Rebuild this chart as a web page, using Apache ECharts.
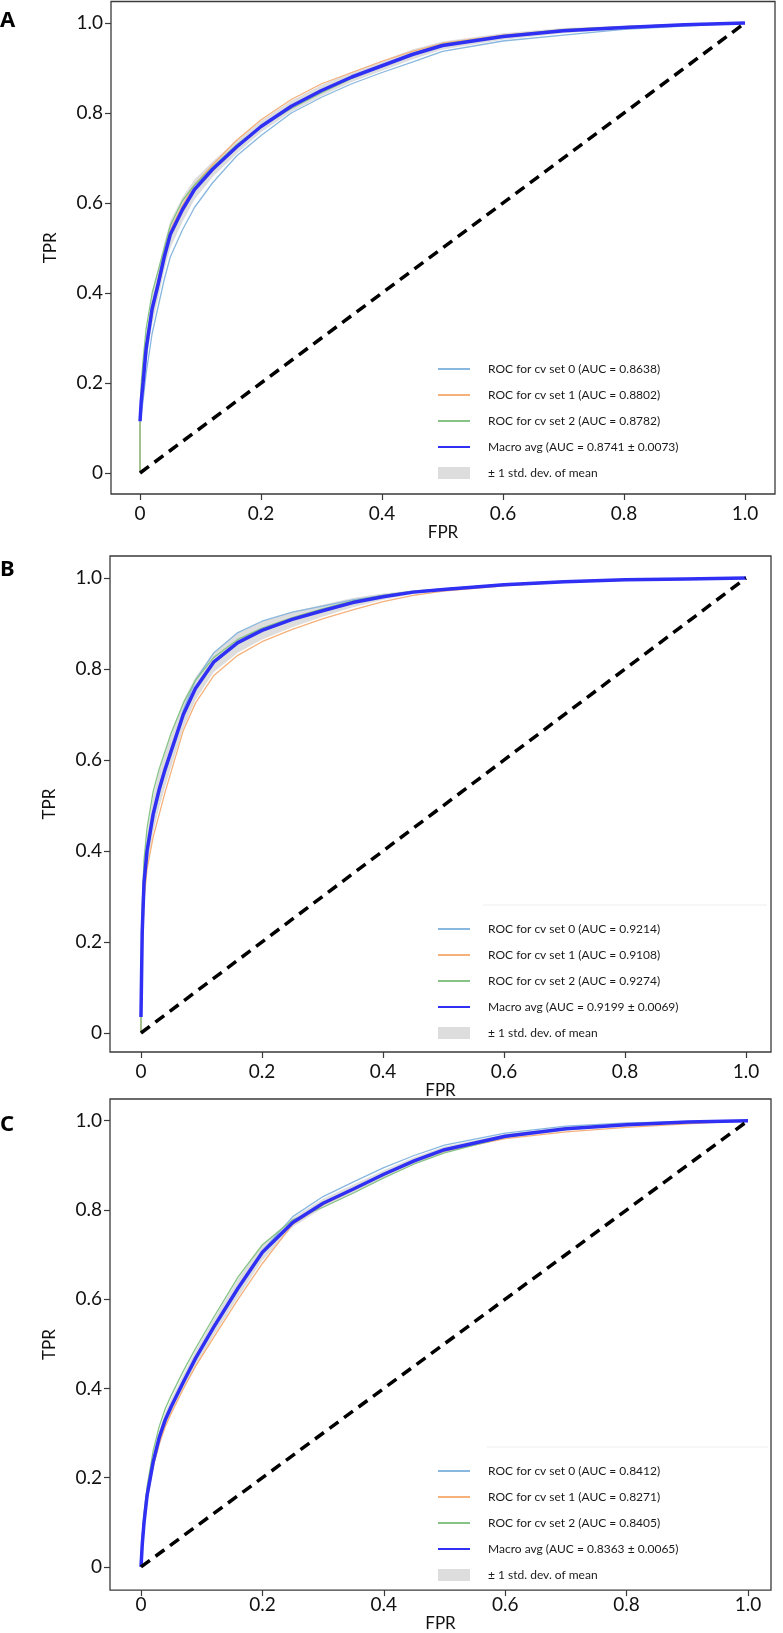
<!DOCTYPE html>
<html>
<head>
<meta charset="utf-8">
<script src="https://cdn.jsdelivr.net/npm/echarts@6/dist/echarts.min.js"></script>
<style>
  html, body { margin: 0; padding: 0; background: #fff; }
  #chart { width: 783px; height: 1633px; }
</style>
</head>
<body>
<div id="chart"></div>
<script>
// shared FPR grid the curves were read on
const fpr = [0, 0.002, 0.005, 0.01, 0.02, 0.03, 0.04, 0.05, 0.07, 0.09, 0.12, 0.16, 0.2, 0.25, 0.3, 0.35, 0.4, 0.45, 0.5, 0.6, 0.7, 0.8, 0.9, 1.0];
const tickValues = [0, 0.2, 0.4, 0.6, 0.8, 1.0];
const chanceLine = [[0, 0], [1, 1]];
const stdName = '± 1 std. dev. of mean';

// panel A
const namesA = ['ROC for cv set 0 (AUC = 0.8638)', 'ROC for cv set 1 (AUC = 0.8802)', 'ROC for cv set 2 (AUC = 0.8782)', 'Macro avg (AUC = 0.8741 ± 0.0073)'];
const tprA0 = [0.11, 0.13, 0.16, 0.22, 0.31, 0.37, 0.43, 0.48, 0.54, 0.59, 0.645, 0.705, 0.75, 0.80, 0.835, 0.865, 0.89, 0.913, 0.937, 0.96, 0.973, 0.986, 0.993, 1.0];
const tprA1 = [0.11, 0.16, 0.21, 0.29, 0.37, 0.43, 0.49, 0.54, 0.595, 0.64, 0.685, 0.74, 0.785, 0.83, 0.865, 0.89, 0.915, 0.937, 0.955, 0.973, 0.985, 0.992, 0.997, 1.0];
const tprA2 = [0.11, 0.20, 0.25, 0.32, 0.40, 0.45, 0.50, 0.55, 0.605, 0.64, 0.68, 0.73, 0.77, 0.81, 0.845, 0.877, 0.905, 0.932, 0.953, 0.972, 0.985, 0.992, 0.997, 1.0];
const meanA = [0.115, 0.16, 0.20, 0.275, 0.365, 0.42, 0.48, 0.53, 0.585, 0.63, 0.675, 0.725, 0.77, 0.815, 0.85, 0.88, 0.905, 0.93, 0.95, 0.97, 0.983, 0.99, 0.996, 1.0];
const stdA = [0.005, 0.015, 0.02, 0.03, 0.035, 0.033, 0.03, 0.03, 0.027, 0.022, 0.017, 0.015, 0.013, 0.012, 0.012, 0.011, 0.011, 0.011, 0.009, 0.007, 0.006, 0.004, 0.002, 0.0];

// panel B
const namesB = ['ROC for cv set 0 (AUC = 0.9214)', 'ROC for cv set 1 (AUC = 0.9108)', 'ROC for cv set 2 (AUC = 0.9274)', 'Macro avg (AUC = 0.9199 ± 0.0069)'];
const tprB0 = [0.03, 0.20, 0.31, 0.39, 0.47, 0.525, 0.575, 0.62, 0.71, 0.775, 0.835, 0.88, 0.905, 0.925, 0.938, 0.952, 0.962, 0.97, 0.976, 0.986, 0.993, 0.996, 0.998, 1.0];
const tprB1 = [0.03, 0.18, 0.29, 0.36, 0.43, 0.48, 0.53, 0.575, 0.665, 0.725, 0.785, 0.83, 0.86, 0.887, 0.91, 0.93, 0.948, 0.962, 0.971, 0.983, 0.991, 0.995, 0.998, 1.0];
const tprB2 = [0.04, 0.28, 0.38, 0.45, 0.53, 0.58, 0.62, 0.66, 0.725, 0.775, 0.825, 0.865, 0.89, 0.913, 0.932, 0.95, 0.962, 0.971, 0.976, 0.986, 0.992, 0.996, 0.998, 1.0];
const meanB = [0.035, 0.22, 0.33, 0.40, 0.48, 0.535, 0.58, 0.62, 0.70, 0.757, 0.815, 0.858, 0.885, 0.909, 0.928, 0.946, 0.959, 0.969, 0.975, 0.985, 0.992, 0.996, 0.998, 1.0];
const stdB = [0.005, 0.04, 0.04, 0.037, 0.04, 0.04, 0.038, 0.035, 0.03, 0.025, 0.022, 0.022, 0.02, 0.017, 0.013, 0.01, 0.007, 0.004, 0.003, 0.002, 0.001, 0.001, 0.0, 0.0];

// panel C
const namesC = ['ROC for cv set 0 (AUC = 0.8412)', 'ROC for cv set 1 (AUC = 0.8271)', 'ROC for cv set 2 (AUC = 0.8405)', 'Macro avg (AUC = 0.8363 ± 0.0065)'];
const tprC0 = [0.0, 0.05, 0.10, 0.16, 0.235, 0.29, 0.33, 0.36, 0.415, 0.47, 0.54, 0.627, 0.708, 0.785, 0.83, 0.863, 0.895, 0.922, 0.945, 0.972, 0.988, 0.995, 0.998, 1.0];
const tprC1 = [0.0, 0.04, 0.09, 0.15, 0.225, 0.275, 0.315, 0.345, 0.40, 0.45, 0.515, 0.60, 0.68, 0.768, 0.812, 0.845, 0.878, 0.908, 0.932, 0.96, 0.975, 0.985, 0.993, 1.0];
const tprC2 = [0.0, 0.07, 0.12, 0.18, 0.26, 0.315, 0.355, 0.385, 0.44, 0.49, 0.56, 0.65, 0.722, 0.778, 0.806, 0.838, 0.872, 0.903, 0.928, 0.963, 0.982, 0.992, 0.997, 1.0];
const meanC = [0.0, 0.05, 0.10, 0.16, 0.235, 0.29, 0.33, 0.36, 0.415, 0.468, 0.538, 0.625, 0.705, 0.772, 0.815, 0.847, 0.88, 0.91, 0.935, 0.965, 0.982, 0.991, 0.997, 1.0];
const stdC = [0.0, 0.01, 0.012, 0.013, 0.015, 0.016, 0.017, 0.017, 0.017, 0.017, 0.018, 0.02, 0.018, 0.01, 0.01, 0.01, 0.009, 0.008, 0.007, 0.005, 0.004, 0.003, 0.002, 0.0];

const cvColors = ['#88b7df', '#f6b07a', '#86c486'];
const meanColor = '#3030f4';
const bandColor = '#dddddd';
const axisColor = '#3a3a3a';
const font = 'Lato';

const panels = [
  { letter: 'A', letterTop: 10, names: namesA, cv: [tprA0, tprA1, tprA2], mean: meanA, std: stdA,
    left: 111, top: 1.5, width: 664, height: 492.5, x: [-0.048, 1.0496], y: [-0.0467, 1.0478],
    labelMargin: 10, nameGap: 24, legendTop: 357, legendLine: null },
  { letter: 'B', letterTop: 559, names: namesB, cv: [tprB0, tprB1, tprB2], mean: meanB, std: stdB,
    left: 110, top: 556, width: 661, height: 496, x: [-0.0512, 1.0413], y: [-0.0418, 1.0484],
    labelMargin: 10, nameGap: 28, legendTop: 917, legendLine: [483, 905, 767] },
  { letter: 'C', letterTop: 1114, names: namesC, cv: [tprC0, tprC1, tprC2], mean: meanC, std: stdC,
    left: 110, top: 1099, width: 661, height: 498, x: [-0.0511, 1.0379], y: [-0.0519, 1.0486],
    labelMargin: 5, nameGap: 23, legendTop: 1459, legendLine: [487, 1447, 768] }
];

const fmt = v => (Math.abs(v) < 1e-9 ? '0' : v.toFixed(1));

const grid = [], xAxis = [], yAxis = [], series = [], legend = [], graphic = [];

panels.forEach((p, i) => {
  grid.push({
    left: p.left, top: p.top, width: p.width, height: p.height,
    show: true, borderColor: axisColor, borderWidth: 1.3, backgroundColor: 'transparent'
  });
  const axisCommon = {
    type: 'value', gridIndex: i,
    axisLine: { show: false, onZero: false },
    axisTick: { show: true, length: 6, customValues: tickValues, lineStyle: { color: axisColor, width: 1.2 } },
    splitLine: { show: false },
    nameTextStyle: { fontFamily: font, fontSize: 17, color: '#111' }
  };
  xAxis.push(Object.assign({}, axisCommon, {
    min: p.x[0], max: p.x[1], name: 'FPR', nameLocation: 'middle', nameGap: p.nameGap,
    axisLabel: { customValues: tickValues, formatter: fmt, margin: p.labelMargin, fontFamily: font, fontSize: 19, color: '#111' }
  }));
  yAxis.push(Object.assign({}, axisCommon, {
    min: p.y[0], max: p.y[1], name: 'TPR', nameLocation: 'middle', nameGap: 52,
    axisLabel: { customValues: tickValues, formatter: fmt, margin: 8, fontFamily: font, fontSize: 19, color: '#111' }
  }));

  // ±1 std band around the mean
  const lower = p.mean.map((m, k) => Math.max(0, m - p.std[k]));
  const upper = p.mean.map((m, k) => Math.min(1, m + p.std[k]));
  series.push({
    type: 'custom', name: stdName, xAxisIndex: i, yAxisIndex: i, z: 1,
    itemStyle: { color: bandColor },
    data: fpr.map((x, k) => [x, lower[k], upper[k]]),
    encode: { x: 0, y: [1, 2] },
    renderItem: (params, api) => {
      if (params.dataIndex !== 0) return null;
      const pts = [];
      fpr.forEach((x, k) => pts.push(api.coord([x, upper[k]])));
      for (let k = fpr.length - 1; k >= 0; k--) pts.push(api.coord([fpr[k], lower[k]]));
      return { type: 'polygon', shape: { points: pts }, style: { fill: bandColor } };
    }
  });

  p.cv.forEach((tpr, c) => {
    series.push({
      type: 'line', name: p.names[c], xAxisIndex: i, yAxisIndex: i, z: 2,
      symbol: 'none', silent: true,
      lineStyle: { color: cvColors[c], width: 1.3 },
      itemStyle: { color: cvColors[c] },
      data: [[0, 0]].concat(fpr.map((x, k) => [x, tpr[k]]))
    });
  });

  series.push({
    type: 'line', name: p.names[3], xAxisIndex: i, yAxisIndex: i, z: 3,
    symbol: 'none', silent: true,
    lineStyle: { color: meanColor, width: 3.5 },
    itemStyle: { color: meanColor },
    data: fpr.map((x, k) => [x, p.mean[k]])
  });

  series.push({
    type: 'line', name: 'chance', xAxisIndex: i, yAxisIndex: i, z: 4,
    symbol: 'none', silent: true,
    lineStyle: { color: '#000', width: 3.5, type: [11, 7] },
    data: chanceLine
  });

  legend.push({
    orient: 'vertical', left: 432, top: p.legendTop,
    itemWidth: 32, itemHeight: 12, itemGap: 12,
    selectedMode: false,
    itemStyle: { opacity: 0 },
    textStyle: { fontFamily: font, fontSize: 12, lineHeight: 14, color: '#1a1a1a', padding: [0, 0, 0, 13] },
    data: p.names.map(n => ({ name: n })).concat([{ name: stdName, icon: 'rect', itemStyle: { color: bandColor, opacity: 1 } }])
  });

  graphic.push({
    type: 'text', left: 0, top: p.letterTop,
    style: { text: p.letter, font: 'bold 22px "Noto Sans"', fill: '#000' }
  });
  if (p.legendLine) {
    graphic.push({
      type: 'line', shape: { x1: p.legendLine[0], y1: p.legendLine[1], x2: p.legendLine[2], y2: p.legendLine[1] },
      style: { stroke: '#eeeeee', lineWidth: 1 }
    });
  }
});

const chart = echarts.init(document.getElementById('chart'), null, { renderer: 'canvas' });
chart.setOption({
  animation: false,
  backgroundColor: '#fff',
  grid, xAxis, yAxis, series, legend, graphic
});
</script>
</body>
</html>
